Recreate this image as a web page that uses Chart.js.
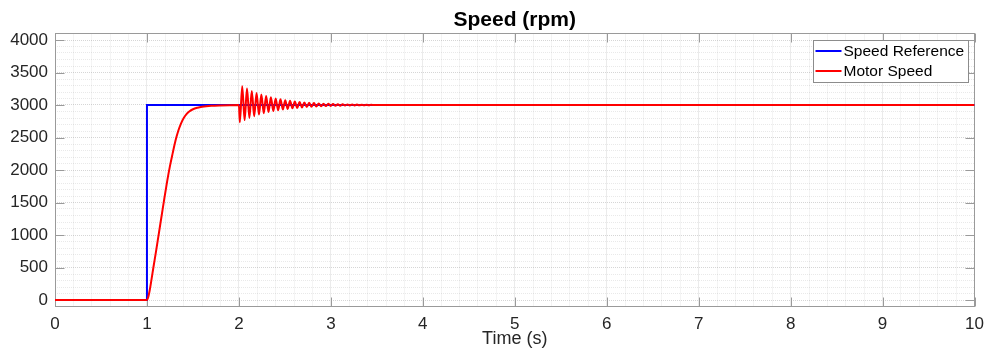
<!DOCTYPE html>
<html>
<head>
<meta charset="utf-8">
<script src="https://cdn.jsdelivr.net/npm/chart.js@4.4.0/dist/chart.umd.min.js"></script>
<style>
html,body{margin:0;padding:0;background:#fff;}
canvas{display:block;}
</style>
</head>
<body>
<canvas id="c" width="992" height="354"></canvas>
<script>
const chartTitle = 'Speed (rpm)';
const xAxisTitle = 'Time (s)';
const seriesNames = ['Speed Reference', 'Motor Speed'];

const xMajor = [0, 1, 2, 3, 4, 5, 6, 7, 8, 9, 10];
const xTickLabels = ['0', '1', '2', '3', '4', '5', '6', '7', '8', '9', '10'];
const yMajor = [0, 500, 1000, 1500, 2000, 2500, 3000, 3500, 4000];
const yTickLabels = ['0', '500', '1000', '1500', '2000', '2500', '3000', '3500', '4000'];

const refTime = [0, 1, 1, 10];
const refSpeed = [0, 0, 3000, 3000];

const motorTime = [
  0, 1.000, 1.015, 1.030, 1.050, 1.070, 1.100, 1.130, 1.160, 1.190, 1.220, 1.250, 1.280,
  1.310, 1.340, 1.370, 1.400, 1.430, 1.460, 1.500, 1.550, 1.600, 1.700, 1.800, 1.900, 2.000,
  2.010, 2.036, 2.062, 2.088, 2.114, 2.140, 2.166, 2.192, 2.218, 2.244, 2.270, 2.296,
  2.322, 2.348, 2.374, 2.400, 2.426, 2.452, 2.478, 2.504, 2.530, 2.556, 2.582, 2.608,
  2.634, 2.660, 2.686, 2.712, 2.738, 2.764, 2.790, 2.816, 2.842, 2.868, 2.894, 2.920,
  2.946, 2.972, 2.998, 3.024, 3.050, 3.076, 3.102, 3.128, 3.154, 3.180, 3.206, 3.232,
  3.258, 3.284, 3.310, 3.336, 3.362, 3.388, 3.414, 3.440, 3.466, 10
];
const motorSpeed = [
  0, 0, 50, 150, 320, 500, 760, 1030, 1300, 1570, 1830, 2060, 2260,
  2450, 2600, 2715, 2800, 2860, 2900, 2935, 2958, 2972, 2987, 2994, 2998, 3000,
  2735, 3290, 2768, 3252, 2800, 3215, 2828, 3185, 2852, 3160, 2873, 3138,
  2891, 3118, 2906, 3101, 2919, 3087, 2930, 3075, 2940, 3064, 2949, 3055,
  2956, 3047, 2963, 3040, 2968, 3034, 2973, 3029, 2977, 3025, 2980, 3021,
  2983, 3018, 2986, 3015, 2988, 3013, 2990, 3011, 2992, 3009, 2993, 3008,
  2994, 3006, 2995, 3005, 2996, 3004, 2997, 3003, 3000, 3000
];

const FONT = "'Liberation Sans', Arial, Helvetica, sans-serif";
const AXIS_COLOR = '#9a9a9a';
const TEXT_COLOR = '#262626';

function majorIndex(list, v) {
  for (let i = 0; i < list.length; i++) if (Math.abs(list[i] - v) < 1e-6) return i;
  return -1;
}

function boxEdges(a) {
  return {
    L: Math.floor(a.left) + 0.5,
    R: Math.ceil(a.right) - 0.5,
    T: Math.floor(a.top) + 0.5,
    B: Math.ceil(a.bottom) - 0.5
  };
}

const framePlugin = {
  id: 'matlabFrame',
  beforeDatasetsDraw(chart) {
    const {ctx, chartArea: a, scales: {x, y}} = chart;
    const {L, R, T, B} = boxEdges(a);
    ctx.save();
    ctx.strokeStyle = AXIS_COLOR;
    ctx.lineWidth = 1;
    ctx.beginPath();
    xMajor.forEach(v => {
      const px = Math.round(x.getPixelForValue(v)) + 0.5;
      ctx.moveTo(px, B); ctx.lineTo(px, B - 9);
      ctx.moveTo(px, T); ctx.lineTo(px, T + 9);
    });
    yMajor.forEach(v => {
      const py = Math.round(y.getPixelForValue(v)) + 0.5;
      ctx.moveTo(L, py); ctx.lineTo(L + 9, py);
      ctx.moveTo(R, py); ctx.lineTo(R - 9, py);
    });
    ctx.stroke();
    ctx.strokeRect(L, T, R - L, B - T);
    ctx.restore();
  },
  afterDraw(chart) {
    const {ctx, chartArea: a} = chart;
    const {L, R, T, B} = boxEdges(a);
    ctx.save();
    // title centred over the plot area
    ctx.fillStyle = '#000000';
    ctx.font = 'bold 21px ' + FONT;
    ctx.textAlign = 'center';
    ctx.textBaseline = 'alphabetic';
    ctx.fillText(chartTitle, (a.left + a.right) / 2, 26);

    // legend box
    const boxR = R - 6, boxT = T + 7;
    const boxW = 155, boxH = 42;
    const boxL = boxR - boxW;
    ctx.fillStyle = '#ffffff';
    ctx.fillRect(boxL, boxT, boxW, boxH);
    ctx.strokeStyle = '#8c8c8c';
    ctx.lineWidth = 1;
    ctx.strokeRect(boxL, boxT, boxW, boxH);
    ctx.font = '15.5px ' + FONT;
    ctx.textBaseline = 'middle';
    ctx.textAlign = 'left';
    chart.data.datasets.forEach((ds, i) => {
      const rowY = boxT + 10.5 + i * 20;
      ctx.strokeStyle = ds.borderColor;
      ctx.lineWidth = 2;
      ctx.beginPath();
      ctx.moveTo(boxL + 2, rowY); ctx.lineTo(boxL + 28, rowY);
      ctx.stroke();
      ctx.fillStyle = '#000000';
      ctx.fillText(ds.label, boxL + 30, rowY + 0.5);
    });
    ctx.restore();
  }
};

function gridColor(list, major, minor) {
  return (c) => (c.tick && majorIndex(list, c.tick.value) >= 0) ? major : minor;
}

new Chart(document.getElementById('c'), {
  type: 'line',
  data: {
    datasets: [
      {
        label: seriesNames[0],
        data: refTime.map((t, i) => ({x: t, y: refSpeed[i]})),
        borderColor: '#0000ff',
        borderWidth: 2,
        pointRadius: 0,
        tension: 0,
        order: 2
      },
      {
        label: seriesNames[1],
        data: motorTime.map((t, i) => ({x: t, y: motorSpeed[i]})),
        borderColor: '#ff0000',
        borderWidth: 2,
        pointRadius: 0,
        cubicInterpolationMode: 'monotone',
        borderJoinStyle: 'round',
        order: 1
      }
    ]
  },
  options: {
    responsive: false,
    animation: false,
    devicePixelRatio: 1,
    layout: {padding: {left: 0, right: 16, top: 33.5, bottom: 0}},
    plugins: {
      legend: {display: false},
      tooltip: {enabled: false},
      title: {display: false}
    },
    scales: {
      x: {
        type: 'linear',
        min: 0,
        max: 10,
        afterFit(s) { s.height = 47.5; },
        ticks: {
          stepSize: 0.2,
          autoSkip: false,
          maxRotation: 0,
          minRotation: 0,
          padding: 8,
          color: TEXT_COLOR,
          font: {family: FONT, size: 17},
          callback(v) { const i = majorIndex(xMajor, v); return i < 0 ? '' : xTickLabels[i]; }
        },
        grid: {
          drawTicks: false,
          lineWidth: 1,
          color: gridColor(xMajor, 'rgba(0,0,0,0.16)', 'rgba(0,0,0,0.085)')
        },
        border: {display: false, dash: [1, 1]},
        title: {
          display: true,
          text: xAxisTitle,
          color: TEXT_COLOR,
          font: {family: FONT, size: 18},
          padding: {top: 0, bottom: 4}
        }
      },
      y: {
        type: 'linear',
        min: -100,
        max: 4100,
        afterFit(s) { s.width = 55; },
        ticks: {
          stepSize: 100,
          autoSkip: false,
          padding: 7,
          color: TEXT_COLOR,
          font: {family: FONT, size: 17},
          callback(v) { const i = majorIndex(yMajor, v); return i < 0 ? '' : yTickLabels[i]; }
        },
        grid: {
          drawTicks: false,
          lineWidth: 1,
          color: gridColor(yMajor, 'rgba(0,0,0,0.16)', 'rgba(0,0,0,0.085)')
        },
        border: {display: false, dash: [1, 1]}
      }
    }
  },
  plugins: [framePlugin]
});
</script>
</body>
</html>
